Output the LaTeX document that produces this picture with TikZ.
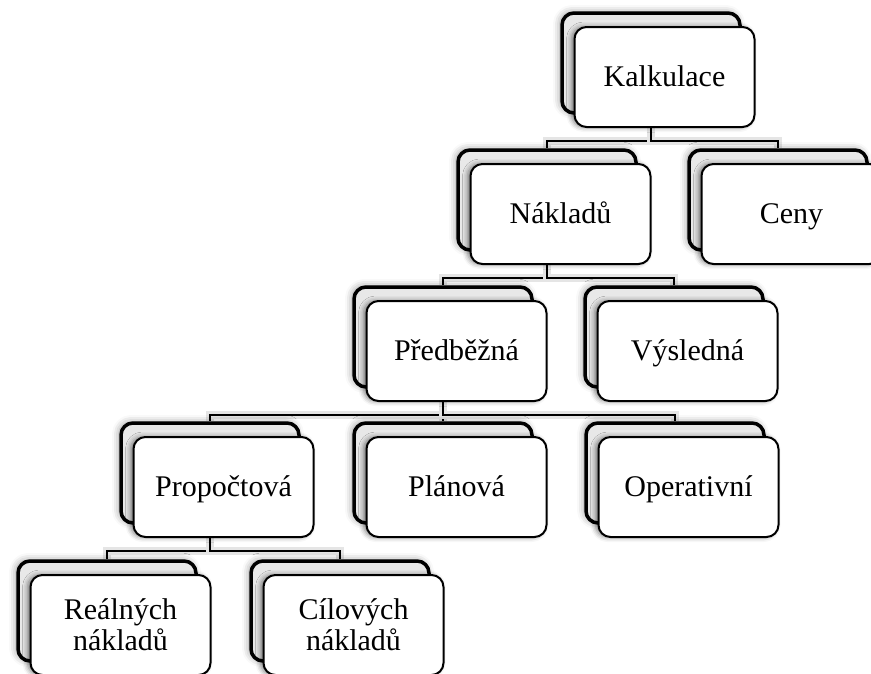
\documentclass[tikz,border=0pt]{standalone}
\usepackage{fontspec}
\setmainfont{Liberation Serif}
\usetikzlibrary{positioning,shadows.blur,backgrounds}
\tikzstyle{back}=[draw,line width=3.5pt,fill=black!9,rounded corners=12pt,
  minimum width=178pt,minimum height=100pt,
  blur shadow={shadow xshift=-2pt,shadow yshift=1pt,shadow blur radius=7pt,shadow opacity=40}]
\tikzstyle{box}=[draw,line width=2pt,fill=white,rounded corners=12pt,
  minimum width=180pt,minimum height=100pt,align=center,
  font=\fontsize{30}{31}\selectfont,
  blur shadow={shadow xshift=-3pt,shadow yshift=0pt,shadow blur radius=5pt,shadow opacity=50}]
\tikzstyle{one}=[text height=24pt,text depth=6pt]
\tikzstyle{conn}=[line width=2pt,preaction={draw=black!10,line width=8pt}]

\begin{document}
\begin{tikzpicture}[x=1pt, y=-1pt, node distance=14pt and 13.5pt, on grid]
  \useasboundingbox (0,0) rectangle (871,673);

  \node[back] (kalkb) at (651,63) {};
  \node[box, one, below right=of kalkb] (kalk) {Kalkulace};

  \node[back] (naklb) at (547,200) {};
  \node[box, one, below right=of naklb] (nakl) {Nákladů};
  \node[back] (cenyb) at (778,200) {};
  \node[box, one, below right=of cenyb] (ceny) {Ceny};

  \node[back] (predb) at (443,337) {};
  \node[box, one, below right=of predb] (pred) {Předběžná};
  \node[back] (vyslb) at (674,337) {};
  \node[box, one, below right=of vyslb] (vysl) {Výsledná};

  \node[back] (propb) at (210,473) {};
  \node[box, one, below right=of propb] (prop) {Propočtová};
  \node[back] (planb) at (443,473) {};
  \node[box, one, below right=of planb] (plan) {Plánová};
  \node[back] (operb) at (675,473) {};
  \node[box, one, below right=of operb] (oper) {Operativní};

  \node[back] (realb) at (107,611) {};
  \node[box, below right=of realb] (real) {Reálných\\nákladů};
  \node[back] (cilb) at (340,611) {};
  \node[box, below right=of cilb] (cil) {Cílových\\nákladů};

  % connectors behind the boxes
  \begin{scope}[on background layer]
    \foreach \p/\c in {kalkb/naklb, kalkb/cenyb, naklb/predb, naklb/vyslb,
                       predb/propb, predb/planb, predb/operb, propb/realb, propb/cilb}
      \draw[conn] (\p.south) -- +(0,26) -| (\c.north);
  \end{scope}
\end{tikzpicture}
\end{document}
